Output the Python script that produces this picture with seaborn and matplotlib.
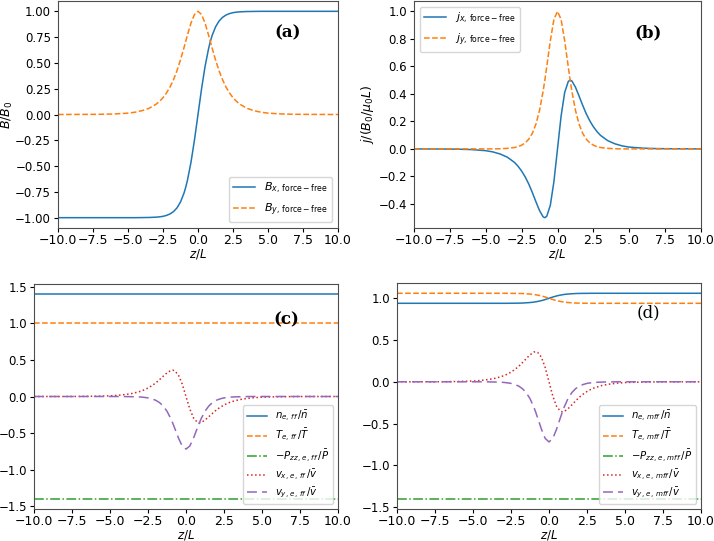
import pandas as pd
import seaborn as sns
import matplotlib
matplotlib.use('Agg')
import matplotlib.pyplot as plt

# z/L grid (denser near the sheet centre)
z = [-10, -8, -7, -6, -5, -4.5, -4, -3.5, -3, -2.75, -2.5, -2.25, -2, -1.75, -1.5,
     -1.25, -1, -0.875, -0.75, -0.5, -0.25, 0, 0.25, 0.5, 0.75, 0.875, 1, 1.25,
     1.5, 1.75, 2, 2.25, 2.5, 2.75, 3, 3.5, 4, 4.5, 5, 6, 7, 8, 10]

bx = [-1.0, -1.0, -1.0, -1.0, -1.0, -1.0, -0.999, -0.998, -0.995, -0.992, -0.987, -0.978,
      -0.964, -0.941, -0.905, -0.848, -0.762, -0.704, -0.635, -0.462, -0.245, 0.0,
      0.245, 0.462, 0.635, 0.704, 0.762, 0.848, 0.905, 0.941, 0.964, 0.978, 0.987,
      0.992, 0.995, 0.998, 0.999, 1.0, 1.0, 1.0, 1.0, 1.0, 1.0]
by = [0.0, 0.001, 0.002, 0.005, 0.013, 0.022, 0.037, 0.060, 0.099, 0.127, 0.163, 0.209,
      0.266, 0.338, 0.425, 0.530, 0.648, 0.710, 0.772, 0.887, 0.970, 1.0,
      0.970, 0.887, 0.772, 0.710, 0.648, 0.530, 0.425, 0.338, 0.266, 0.209, 0.163,
      0.127, 0.099, 0.060, 0.037, 0.022, 0.013, 0.005, 0.002, 0.001, 0.0]
jx = [0.0, -0.001, -0.002, -0.005, -0.013, -0.022, -0.037, -0.060, -0.098, -0.126, -0.161,
      -0.204, -0.256, -0.318, -0.385, -0.449, -0.494, -0.500, -0.490, -0.410, -0.238, 0.0,
      0.238, 0.410, 0.490, 0.500, 0.494, 0.449, 0.385, 0.318, 0.256, 0.204, 0.161,
      0.126, 0.098, 0.060, 0.037, 0.022, 0.013, 0.005, 0.002, 0.001, 0.0]
jy = [0.0, 0.0, 0.0, 0.0, 0.0, 0.0, 0.001, 0.004, 0.010, 0.016, 0.027, 0.044,
      0.071, 0.114, 0.181, 0.281, 0.420, 0.505, 0.597, 0.786, 0.941, 1.0,
      0.941, 0.786, 0.597, 0.505, 0.420, 0.281, 0.181, 0.114, 0.071, 0.044, 0.027,
      0.016, 0.010, 0.004, 0.001, 0.0, 0.0, 0.0, 0.0, 0.0, 0.0]
vx = [0.0, 0.0, 0.001, 0.004, 0.009, 0.016, 0.027, 0.043, 0.071, 0.091, 0.116, 0.147,
      0.184, 0.229, 0.277, 0.323, 0.356, 0.360, 0.353, 0.295, 0.171, 0.0,
      -0.171, -0.295, -0.353, -0.360, -0.356, -0.323, -0.277, -0.229, -0.184, -0.147,
      -0.116, -0.091, -0.071, -0.043, -0.027, -0.016, -0.009, -0.004, -0.001, 0.0, 0.0]
vy = [0.0, 0.0, 0.0, 0.0, 0.0, 0.0, -0.001, -0.003, -0.007, -0.012, -0.019, -0.032,
      -0.051, -0.082, -0.130, -0.202, -0.302, -0.363, -0.430, -0.566, -0.678, -0.72,
      -0.678, -0.566, -0.430, -0.363, -0.302, -0.202, -0.130, -0.082, -0.051, -0.032,
      -0.019, -0.012, -0.007, -0.003, -0.001, 0.0, 0.0, 0.0, 0.0, 0.0, 0.0]
n_mff = [0.940, 0.940, 0.940, 0.940, 0.940, 0.940, 0.940, 0.940, 0.940, 0.940, 0.941,
         0.941, 0.942, 0.943, 0.946, 0.949, 0.954, 0.958, 0.962, 0.972, 0.985, 1.0,
         1.015, 1.028, 1.038, 1.042, 1.046, 1.051, 1.054, 1.057, 1.058, 1.059, 1.059,
         1.060, 1.060, 1.060, 1.060, 1.060, 1.060, 1.060, 1.060, 1.060, 1.060]
T_mff = [1.060, 1.060, 1.060, 1.060, 1.060, 1.060, 1.060, 1.060, 1.060, 1.060, 1.059,
         1.059, 1.058, 1.057, 1.054, 1.051, 1.046, 1.042, 1.038, 1.028, 1.015, 1.0,
         0.985, 0.972, 0.962, 0.958, 0.954, 0.949, 0.946, 0.943, 0.942, 0.941, 0.941,
         0.940, 0.940, 0.940, 0.940, 0.940, 0.940, 0.940, 0.940, 0.940, 0.940]
n_ff, T_ff, P_ff, P_mff = 1.4, 1.0, -1.4, -1.4

xticks = [-10, -7.5, -5, -2.5, 0, 2.5, 5, 7.5, 10]
yticks_a = [-1.0, -0.75, -0.5, -0.25, 0.0, 0.25, 0.5, 0.75, 1.0]
yticks_b = [-0.4, -0.2, 0.0, 0.2, 0.4, 0.6, 0.8, 1.0]
yticks_c = [-1.5, -1.0, -0.5, 0.0, 0.5, 1.0, 1.5]
yticks_d = [-1.5, -1.0, -0.5, 0.0, 0.5, 1.0]

df = pd.DataFrame({'z': z, 'bx': bx, 'by': by, 'jx': jx, 'jy': jy, 'vx': vx, 'vy': vy,
                   'n_ff': n_ff, 'T_ff': T_ff, 'P_ff': P_ff,
                   'n_mff': n_mff, 'T_mff': T_mff, 'P_mff': P_mff})

plt.rcParams['lines.linewidth'] = 1.1
fig, axes = plt.subplots(2, 2, figsize=(7.14, 5.41), dpi=100)
ax_a, ax_b, ax_c, ax_d = axes.ravel()
W, H = 714, 541
def place(ax, l, r, t, b):
    ax.set_position([l / W, 1 - b / H, (r - l) / W, (b - t) / H])
place(ax_a, 58, 338, 1, 228)
place(ax_b, 414, 701, 1, 228)
place(ax_c, 34, 338, 284, 509)
place(ax_d, 397, 701, 283, 509)

ls_long = (0, (6.5, 3.3))

sns.lineplot(data=df, x='z', y='bx', ax=ax_a, color='C0', label=r'$B_{x,\,\mathrm{force-free}}$')
sns.lineplot(data=df, x='z', y='by', ax=ax_a, color='C1', linestyle='--', label=r'$B_{y,\,\mathrm{force-free}}$')
ax_a.set_ylabel(r'$B/B_0$', fontsize=9)
ax_a.yaxis.set_label_coords(-0.152, 0.5)
ax_a.set_yticks(yticks_a)
ax_a.legend(loc='lower right', fontsize=8)

sns.lineplot(data=df, x='z', y='jx', ax=ax_b, color='C0', label=r'$j_{x,\,\mathrm{force-free}}$')
sns.lineplot(data=df, x='z', y='jy', ax=ax_b, color='C1', linestyle='--', label=r'$j_{y,\,\mathrm{force-free}}$')
ax_b.set_ylabel(r'$j/(B_0/\mu_0 L)$', fontsize=9)
ax_b.yaxis.set_label_coords(-0.133, 0.5)
ax_b.set_yticks(yticks_b)
ax_b.legend(loc='upper left', fontsize=8)

for ax, tag in [(ax_c, 'ff'), (ax_d, 'mff')]:
    sns.lineplot(data=df, x='z', y='n_' + tag, ax=ax, color='C0',
                 label=r'$n_{e,\,%s}\,/\bar{n}$' % tag)
    sns.lineplot(data=df, x='z', y='T_' + tag, ax=ax, color='C1', linestyle='--',
                 label=r'$T_{e,\,%s}\,/\bar{T}$' % tag)
    sns.lineplot(data=df, x='z', y='P_' + tag, ax=ax, color='C2', linestyle='-.',
                 label=r'$-P_{zz,\,e,\,%s}\,/\bar{P}$' % tag)
    sns.lineplot(data=df, x='z', y='vx', ax=ax, color='C3', linestyle=':',
                 label=r'$v_{x,\,e,\,%s}\,/\bar{v}$' % tag)
    sns.lineplot(data=df, x='z', y='vy', ax=ax, color='C4', linestyle=ls_long,
                 label=r'$v_{y,\,e,\,%s}\,/\bar{v}$' % tag)
    ax.set_ylabel('')
    ax.legend(loc='lower right', fontsize=7.3, labelspacing=0.3, borderpad=0.35)
ax_c.set_yticks(yticks_c)
ax_d.set_yticks(yticks_d)

for ax in axes.ravel():
    ax.set_xlim(-10, 10)
    ax.set_xticks(xticks)
    ax.set_xlabel(r'$z/L$', fontsize=8.5)
    ax.xaxis.set_label_coords(0.5, -0.085)
    ax.tick_params(axis='x', labelsize=9, length=3, pad=1.5)
    ax.tick_params(axis='y', labelsize=8.5, length=3, pad=2)
    for s in ax.spines.values():
        s.set_color('0.3')

for ax, lab, x, y, w in [(ax_a, '(a)', 0.82, 0.86, 'bold'), (ax_b, '(b)', 0.815, 0.86, 'bold'),
                         (ax_c, '(c)', 0.83, 0.84, 'bold'), (ax_d, '(d)', 0.826, 0.87, 'normal')]:
    ax.text(x, y, lab, transform=ax.transAxes, ha='center', va='center',
            family='DejaVu Serif', fontsize=12, fontweight=w)

fig.savefig('out.png', dpi=100)
